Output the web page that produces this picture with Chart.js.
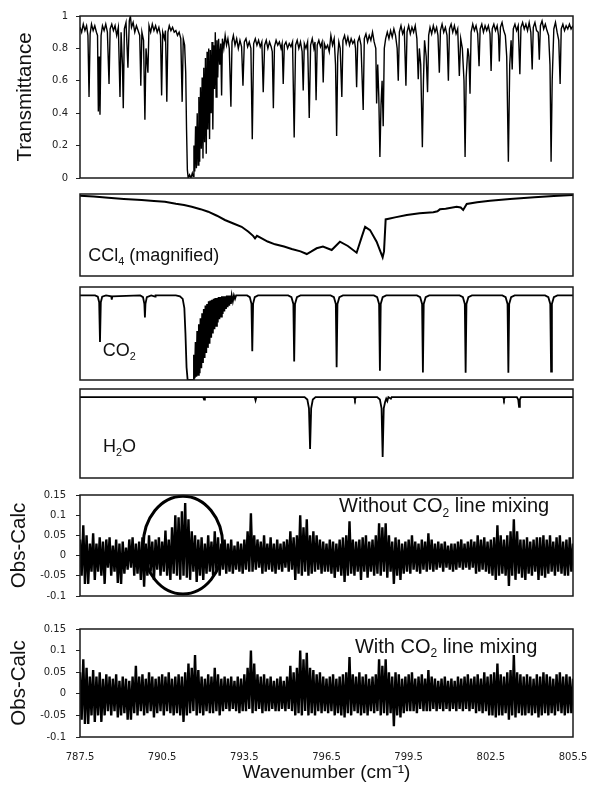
<!DOCTYPE html>
<html>
<head>
<meta charset="utf-8">
<script src="https://cdn.jsdelivr.net/npm/chart.js@4.4.1/dist/chart.umd.min.js"></script>
<style>
  body { margin: 0; background: #fff; }
  #wrap { position: relative; width: 593px; height: 785px; }
  #wrap canvas { position: absolute; left: 0; }
</style>
</head>
<body>
<div id="wrap">
  <canvas id="p1" width="593" height="192" style="top:0px"></canvas>
  <canvas id="p2" width="593" height="98" style="top:186px"></canvas>
  <canvas id="p3" width="593" height="109" style="top:279px"></canvas>
  <canvas id="p4" width="593" height="105" style="top:381px"></canvas>
  <canvas id="p5" width="593" height="133" style="top:479px"></canvas>
  <canvas id="p6" width="593" height="172" style="top:613px"></canvas>
</div>
<script>
// shared wavenumber axis
var X_MIN = 787.5, X_MAX = 805.5;
var xTicks = [787.5, 790.5, 793.5, 796.5, 799.5, 802.5, 805.5];
var tranTicks = [0, 0.2, 0.4, 0.6, 0.8, 1];
var resTicks = [-0.1, -0.05, 0, 0.05, 0.1, 0.15];

// measured transmittance [wavenumber, T]
var tranPts = [
  [787.50,.93],[787.56,.90],[787.62,.95],[787.68,.91],[787.74,.94],[787.79,.88],[787.83,.50],[787.87,.89],[787.92,.95],[787.98,.91],
  [788.04,.94],[788.10,.90],[788.14,.88],[788.17,.41],[788.20,.75],[788.23,.39],[788.27,.88],[788.32,.94],[788.38,.91],[788.44,.95],
  [788.50,.90],[788.56,.58],[788.60,.92],[788.66,.95],[788.72,.91],[788.78,.94],[788.84,.88],[788.90,.93],[788.96,.50],[789.00,.90],
  [789.05,.70],[789.08,.43],[789.12,.92],[789.18,.96],[789.25,.68],[789.30,.97],[789.34,1.0],[789.38,.93],[789.44,.96],[789.50,.90],
  [789.56,.94],[789.62,.91],[789.68,.88],[789.72,.57],[789.76,.90],[789.82,.85],[789.87,.36],[789.91,.80],[789.98,.65],[790.02,.94],
  [790.08,.90],[790.14,.95],[790.20,.91],[790.26,.94],[790.32,.90],[790.38,.93],[790.44,.88],[790.48,.51],[790.52,.90],[790.58,.86],
  [790.62,.91],[790.67,.47],[790.71,.90],[790.76,.94],[790.82,.91],[790.88,.93],[790.94,.90],[791.00,.91],[791.06,.88],[791.12,.90],
  [791.18,.86],[791.23,.47],[791.27,.86],[791.32,.82],[791.36,.65],[791.39,.30],[791.42,.05],[791.45,0],[791.50,.02],[791.55,0],
  [791.60,.03],[791.63,.01],[791.66,.20],[791.69,.04],[791.72,.32],[791.75,.06],[791.78,.40],[791.81,.08],[791.84,.50],[791.87,.10],
  [791.90,.56],[791.93,.18],[791.96,.62],[791.99,.12],[792.02,.68],[792.05,.22],[792.08,.74],[792.11,.15],[792.14,.78],[792.17,.30],
  [792.20,.80],[792.23,.24],[792.26,.79],[792.29,.40],[792.32,.84],[792.35,.30],[792.38,.82],[792.41,.55],[792.44,.90],[792.47,.50],
  [792.50,.85],[792.53,.62],[792.56,.86],[792.60,.70],[792.64,.83],[792.67,.51],[792.70,.86],[792.75,.80],[792.80,.88],[792.85,.82],
  [792.90,.86],[792.95,.80],[793.01,.44],[793.05,.84],[793.10,.88],[793.16,.82],[793.22,.86],[793.28,.80],[793.34,.85],[793.40,.81],
  [793.45,.57],[793.50,.84],[793.56,.86],[793.62,.81],[793.68,.84],[793.74,.80],[793.79,.24],[793.84,.83],[793.90,.86],[793.96,.82],
  [794.02,.85],[794.08,.81],[794.14,.84],[794.19,.53],[794.24,.82],[794.30,.85],[794.36,.80],[794.42,.84],[794.48,.81],[794.52,.78],
  [794.56,.43],[794.60,.81],[794.66,.85],[794.72,.82],[794.78,.84],[794.84,.80],[794.88,.83],[794.92,.58],[794.96,.82],[795.02,.84],
  [795.08,.80],[795.14,.83],[795.20,.81],[795.26,.84],[795.32,.25],[795.37,.82],[795.43,.85],[795.49,.80],[795.55,.84],[795.61,.78],
  [795.65,.54],[795.69,.83],[795.75,.80],[795.81,.84],[795.87,.37],[795.92,.82],[795.98,.86],[796.04,.80],[796.08,.84],[796.12,.48],
  [796.16,.82],[796.22,.85],[796.28,.81],[796.34,.84],[796.38,.59],[796.42,.83],[796.48,.80],[796.54,.82],[796.60,.78],[796.66,.88],
  [796.72,.82],[796.78,.86],[796.83,.70],[796.87,.26],[796.91,.75],[796.95,.84],[797.00,.80],[797.06,.50],[797.10,.85],[797.16,.88],
  [797.22,.83],[797.28,.87],[797.34,.82],[797.40,.86],[797.46,.83],[797.52,.85],[797.56,.80],[797.60,.56],[797.64,.84],[797.70,.87],
  [797.76,.82],[797.84,.42],[797.88,.86],[797.94,.89],[798.00,.84],[798.06,.88],[798.12,.85],[798.18,.90],[798.24,.84],[798.30,.80],
  [798.33,.46],[798.37,.70],[798.41,.50],[798.45,.13],[798.49,.45],[798.53,.60],[798.57,.32],[798.61,.80],[798.66,.86],[798.72,.90],
  [798.78,.86],[798.84,.91],[798.90,.87],[798.96,.92],[799.02,.88],[799.08,.80],[799.12,.60],[799.16,.90],[799.22,.94],[799.28,.89],
  [799.34,.92],[799.40,.57],[799.44,.90],[799.50,.94],[799.56,.89],[799.62,.93],[799.68,.90],[799.74,.94],[799.80,.86],[799.85,.61],
  [799.89,.80],[799.94,.70],[800.00,.19],[800.04,.60],[800.08,.85],[800.14,.75],[800.19,.53],[800.23,.88],[800.28,.93],[800.34,.89],
  [800.40,.94],[800.46,.90],[800.52,.93],[800.57,.88],[800.62,.65],[800.66,.91],[800.72,.95],[800.78,.90],[800.84,.93],[800.90,.88],
  [800.95,.60],[800.99,.92],[801.05,.95],[801.11,.90],[801.17,.94],[801.23,.89],[801.29,.92],[801.35,.63],[801.40,.86],[801.46,.80],
  [801.52,.60],[801.56,.13],[801.60,.62],[801.66,.80],[801.70,.75],[801.74,.52],[801.78,.90],[801.84,.95],[801.90,.91],[801.96,.94],
  [802.02,.89],[802.07,.69],[802.11,.92],[802.17,.95],[802.23,.90],[802.29,.94],[802.35,.91],[802.41,.94],[802.47,.89],[802.51,.66],
  [802.55,.92],[802.61,.95],[802.67,.91],[802.73,.94],[802.78,.88],[802.81,.72],[802.85,.93],[802.91,.96],[802.97,.91],[803.03,.88],
  [803.08,.75],[803.14,.10],[803.19,.70],[803.24,.85],[803.28,.67],[803.32,.92],[803.38,.95],[803.44,.91],[803.50,.94],[803.56,.64],
  [803.60,.93],[803.66,.96],[803.72,.92],[803.78,.95],[803.84,.91],[803.90,.96],[803.96,.90],[804.01,.67],[804.05,.93],[804.11,.96],
  [804.17,.91],[804.23,.90],[804.27,.73],[804.31,.94],[804.37,.97],[804.43,.92],[804.49,.95],[804.55,.91],[804.61,.88],[804.66,.70],
  [804.70,.10],[804.74,.60],[804.80,.92],[804.86,.96],[804.92,.90],[804.98,.85],[805.03,.58],[805.07,.92],[805.13,.95],[805.19,.91],
  [805.25,.94],[805.31,.92],[805.37,.95],[805.43,.92],[805.50,.94]
];

// CCl4 contribution (magnified, relative units)
var ccl4Pts = [
  [787.50,.98],[788.00,.97],[788.53,.955],[789.10,.94],[789.75,.927],[790.20,.915],[790.60,.905],[791.00,.88],[791.30,.865],[791.58,.845],
  [791.90,.815],[792.18,.784],[792.50,.735],[792.79,.683],[793.10,.64],[793.40,.60],[793.65,.54],[793.82,.49],[793.89,.46],[793.96,.49],
  [794.07,.47],[794.35,.42],[794.62,.386],[794.95,.36],[795.23,.33],[795.55,.30],[795.78,.268],[795.95,.30],[796.14,.338],[796.37,.358],
  [796.69,.317],[796.99,.418],[797.28,.366],[797.60,.284],[797.79,.48],[797.91,.60],[798.09,.56],[798.33,.418],[798.55,.228],[798.60,.30],
  [798.66,.69],[799.00,.715],[799.43,.744],[799.90,.765],[800.40,.777],[800.55,.79],[800.64,.813],[800.85,.82],[801.25,.845],[801.40,.835],
  [801.49,.805],[801.62,.878],[802.00,.90],[802.47,.918],[803.20,.94],[804.09,.96],[804.80,.975],[805.50,.988]
];

// CO2 transmittance
var co2Pts = [
  [787.50,1],[788.05,1],[788.15,.985],[788.20,.92],[788.23,.45],[788.26,.92],[788.31,.985],[788.45,1],[788.64,.99],[788.66,.95],
  [788.68,.99],[789.70,1],[789.80,.98],[789.85,.90],[789.87,.74],[789.89,.90],[789.94,.98],[790.10,1],[790.24,.985],[790.26,1],
  [791.00,1],[791.15,.99],[791.25,.96],[791.31,.85],[791.35,.55],[791.39,.15],[791.43,0],[791.63,0],
  [791.66,.30],[791.69,.02],[791.72,.45],[791.75,.04],[791.78,.58],[791.81,.06],[791.84,.66],[791.87,.08],[791.90,.73],[791.93,.14],
  [791.96,.79],[791.99,.20],[792.02,.84],[792.05,.26],[792.08,.88],[792.11,.32],[792.14,.90],[792.17,.38],[792.20,.93],[792.23,.43],
  [792.26,.94],[792.29,.50],[792.32,.95],[792.35,.55],[792.38,.96],[792.41,.60],[792.44,.97],[792.47,.64],[792.50,.97],[792.53,.68],
  [792.56,.98],[792.59,.72],[792.62,.98],[792.65,.75],[792.68,.99],[792.71,.78],[792.74,.99],[792.77,.81],[792.80,.99],[792.83,.84],
  [792.86,1],[792.89,.86],[792.92,1],[792.95,.88],[792.98,1],[793.01,.90],[793.04,1],[793.08,.93],[793.12,1],[793.16,.96],[793.20,1],
  [793.60,1],[793.70,.98],[793.76,.90],[793.79,.34],[793.82,.90],[793.88,.98],[794.00,1],
  [795.10,1],[795.22,.98],[795.29,.90],[795.32,.22],[795.35,.90],[795.42,.98],[795.55,1],
  [796.65,1],[796.77,.98],[796.84,.90],[796.87,.15],[796.90,.90],[796.97,.98],[797.10,1],
  [798.23,1],[798.35,.98],[798.42,.90],[798.45,.11],[798.48,.90],[798.55,.98],[798.68,1],
  [799.80,1],[799.92,.98],[799.99,.90],[800.02,.09],[800.05,.90],[800.12,.98],[800.25,1],
  [801.36,1],[801.48,.98],[801.55,.90],[801.58,.085],[801.61,.90],[801.68,.98],[801.81,1],
  [802.92,1],[803.04,.98],[803.11,.90],[803.14,.085],[803.17,.90],[803.24,.98],[803.37,1],
  [804.48,1],[804.60,.98],[804.67,.90],[804.70,.10],[804.73,.90],[804.80,.98],[804.93,1],
  [805.50,1]
];

// H2O transmittance
var h2oPts = [
  [787.50,1],[792.00,1],[792.03,.985],[792.06,1],[793.88,1],[793.91,.98],[793.94,1],
  [795.70,1],[795.80,.985],[795.86,.93],[795.90,.68],[795.94,.93],[796.00,.985],[796.10,1],
  [797.51,1],[797.54,.985],[797.57,1],
  [798.35,1],[798.45,.985],[798.51,.93],[798.55,.63],[798.59,.93],[798.64,.97],[798.68,.99],[798.72,.975],[798.76,1],
  [798.85,.99],[798.88,1],[802.95,1],[802.98,.985],[803.01,1],
  [803.45,1],[803.50,.985],[803.53,.94],[803.56,.985],[803.60,1],[805.50,1]
];

// residuals, evenly sampled from 787.5 to 805.5
var resNoMix = [
  .04,-.05,.075,-.07,.05,-.07,.03,-.04,.055,-.06,
  .03,-.04,.045,-.05,.035,-.07,.04,-.03,.045,-.05,
  .025,-.04,.04,-.068,.03,-.07,.035,-.045,.02,-.035,
  .04,-.03,.045,-.05,.03,-.045,.035,-.06,.045,-.077,
  .03,-.05,.05,-.04,.035,-.06,.04,-.035,.045,-.05,
  .035,-.04,.062,-.05,.04,-.06,.07,-.045,.1,-.05,
  .095,-.06,.11,-.05,.13,-.055,.09,-.06,.06,-.04,
  .05,-.065,.04,-.05,.045,-.06,.03,-.045,.05,-.04,
  .035,-.05,.06,-.04,.045,-.05,.03,-.035,.04,-.045,
  .03,-.04,.04,-.045,.025,-.035,.035,-.04,.03,-.045,
  .04,-.035,.06,-.04,.105,-.04,.05,-.035,.04,-.03,
  .035,-.045,.05,-.04,.03,-.035,.045,-.04,.03,-.045,
  .04,-.035,.03,-.04,.035,-.03,.04,-.04,.06,-.035,
  .045,-.06,.05,-.045,.1,-.05,.07,-.04,.09,-.05,
  .05,-.045,.06,-.04,.05,-.035,.04,-.045,.035,-.04,
  .03,-.04,.04,-.045,.035,-.055,.03,-.04,.04,-.05,
  .045,-.065,.05,-.05,.085,-.045,.04,-.05,.035,-.04,
  .04,-.06,.045,-.04,.05,-.055,.035,-.04,.04,-.05,
  .05,-.045,.08,-.05,.07,-.04,.08,-.055,.05,-.04,
  .035,-.07,.045,-.05,.04,-.06,.03,-.045,.035,-.04,
  .04,-.045,.05,-.035,.035,-.04,.03,-.045,.04,-.035,
  .035,-.04,.055,-.035,.04,-.04,.03,-.035,.035,-.03,
  .03,-.04,.035,-.03,.025,-.035,.03,-.04,.03,-.035,
  .035,-.03,.04,-.035,.03,-.03,.035,-.035,.04,-.03,
  .035,-.045,.05,-.04,.04,-.035,.045,-.04,.035,-.045,
  .04,-.05,.045,-.06,.075,-.05,.05,-.045,.04,-.05,
  .05,-.075,.06,-.05,.09,-.06,.06,-.045,.04,-.055,
  .04,-.06,.045,-.045,.035,-.05,.04,-.04,.045,-.06,
  .045,-.05,.05,-.055,.04,-.045,.05,-.04,.035,-.05,
  .045,-.04,.05,-.045,.035,-.05,.04,-.05,.045,-.04,
  .03
];
var resMix = [
  .05,-.06,.08,-.07,.06,-.07,.04,-.05,.055,-.065,
  .04,-.05,.05,-.065,.035,-.05,.045,-.04,.04,-.05,
  .035,-.04,.045,-.055,.03,-.05,.04,-.045,.035,-.06,
  .03,-.06,.04,-.045,.065,-.05,.04,-.04,.045,-.05,
  .035,-.045,.05,-.04,.04,-.055,.035,-.045,.04,-.04,
  .045,-.05,.04,-.04,.05,-.045,.035,-.05,.04,-.045,
  .045,-.05,.04,-.065,.05,-.05,.07,-.045,.06,-.04,
  .09,-.05,.055,-.045,.04,-.05,.035,-.04,.045,-.045,
  .04,-.045,.06,-.04,.045,-.05,.035,-.04,.04,-.035,
  .035,-.04,.04,-.035,.03,-.04,.04,-.045,.035,-.04,
  .045,-.04,.06,-.035,.1,-.045,.07,-.04,.045,-.035,
  .04,-.045,.045,-.04,.035,-.04,.04,-.035,.03,-.04,
  .035,-.04,.04,-.035,.03,-.04,.04,-.035,.065,-.04,
  .05,-.05,.06,-.045,.1,-.05,.08,-.04,.095,-.05,
  .06,-.045,.055,-.05,.045,-.04,.05,-.045,.04,-.04,
  .035,-.045,.04,-.04,.045,-.05,.035,-.045,.04,-.05,
  .045,-.055,.05,-.045,.085,-.05,.045,-.04,.04,-.045,
  .05,-.05,.04,-.045,.045,-.05,.035,-.04,.04,-.045,
  .045,-.04,.08,-.05,.065,-.045,.08,-.05,.05,-.045,
  .04,-.075,.05,-.05,.045,-.055,.035,-.045,.04,-.04,
  .045,-.04,.05,-.04,.035,-.045,.04,-.035,.045,-.04,
  .035,-.04,.055,-.04,.04,-.035,.035,-.04,.03,-.035,
  .035,-.04,.04,-.035,.03,-.04,.035,-.035,.03,-.04,
  .04,-.035,.035,-.04,.04,-.035,.045,-.04,.035,-.035,
  .04,-.045,.045,-.04,.035,-.045,.05,-.04,.04,-.05,
  .045,-.05,.05,-.055,.07,-.05,.045,-.05,.04,-.045,
  .05,-.06,.055,-.05,.09,-.055,.05,-.045,.045,-.05,
  .04,-.05,.045,-.045,.04,-.05,.035,-.045,.045,-.055,
  .04,-.05,.05,-.045,.045,-.05,.04,-.045,.035,-.05,
  .045,-.04,.05,-.045,.04,-.05,.045,-.045,.04,-.045,
  .035
];

// circled region in the upper residual panel
var ringCenter = [791.26, 0.026];
var ringRadius = [1.45, 0.121];

var SANS = '"Liberation Sans", Arial, sans-serif';
var TICKFONT = { family: '"DejaVu Sans", Verdana, sans-serif', size: 10 };

function pairs(list) {
  return list.map(function (p) { return { x: p[0], y: p[1] }; });
}
function sampled(vals) {
  var step = (X_MAX - X_MIN) / (vals.length - 1);
  return vals.map(function (v, i) { return { x: X_MIN + i * step, y: v }; });
}

var framePlugin = {
  id: 'frame',
  afterDraw: function (chart) {
    var a = chart.chartArea, c = chart.ctx;
    c.save();
    c.strokeStyle = '#1a1a1a';
    c.lineWidth = 1.5;
    c.strokeRect(a.left, a.top, a.right - a.left, a.bottom - a.top);
    c.restore();
  }
};

function labelPlugin(spec) {
  return {
    id: 'panelLabel',
    afterDatasetsDraw: function (chart) {
      var c = chart.ctx;
      var x = chart.scales.x.getPixelForValue(spec.wn);
      var y = chart.scales.y.getPixelForValue(spec.val);
      c.save();
      c.fillStyle = '#111';
      c.textBaseline = 'alphabetic';
      spec.parts.forEach(function (p) {
        var sub = p.charAt(0) === '_';
        var t = sub ? p.slice(1) : p;
        c.font = (sub ? spec.size * 0.6 : spec.size) + 'px ' + SANS;
        c.fillText(t, x, y + (sub ? spec.size * 0.22 : 0));
        x += c.measureText(t).width;
      });
      c.restore();
    }
  };
}

var ringPlugin = {
  id: 'ring',
  afterDatasetsDraw: function (chart) {
    var sx = chart.scales.x, sy = chart.scales.y, c = chart.ctx;
    var cx = sx.getPixelForValue(ringCenter[0]);
    var cy = sy.getPixelForValue(ringCenter[1]);
    var rx = sx.getPixelForValue(ringCenter[0] + ringRadius[0]) - cx;
    var ry = cy - sy.getPixelForValue(ringCenter[1] + ringRadius[1]);
    c.save();
    c.strokeStyle = '#000';
    c.lineWidth = 3;
    c.beginPath();
    c.ellipse(cx, cy, rx, ry, 0, 0, Math.PI * 2);
    c.stroke();
    c.restore();
  }
};

function yAxis(o) {
  if (!o.ticks) {
    return { display: false, min: o.min, max: o.max };
  }
  return {
    min: o.min, max: o.max,
    afterFit: function (s) { s.width = o.width; },
    afterBuildTicks: function (s) { s.ticks = o.ticks.map(function (v) { return { value: v }; }); },
    ticks: { font: TICKFONT, color: '#222', padding: o.pad, callback: function (v) { return String(v); } },
    grid: { drawOnChartArea: false, tickLength: 4, color: '#222' },
    border: { display: false },
    title: { display: true, text: o.title, color: '#111', font: { family: SANS, size: 20.5 }, padding: { top: 0, bottom: 0 } }
  };
}

function xAxis(show) {
  if (!show) return { type: 'linear', min: X_MIN, max: X_MAX, display: false };
  return {
    type: 'linear', min: X_MIN, max: X_MAX,
    afterFit: function (s) {
      s.height = 48;
      // end labels may hang over the plot edges, keep the plot width shared
      s.paddingLeft = 0;
      s.paddingRight = 0;
    },
    afterBuildTicks: function (s) { s.ticks = xTicks.map(function (v) { return { value: v }; }); },
    ticks: { font: TICKFONT, color: '#222', padding: 14, maxRotation: 0, autoSkip: false,
             callback: function (v) { return v.toFixed(1); } },
    grid: { drawOnChartArea: false, drawTicks: false },
    border: { display: false },
    title: { display: true, text: 'Wavenumber (cm\u207B\u00B9)', color: '#111',
             font: { family: SANS, size: 19 }, padding: { top: 0, bottom: 1 } }
  };
}

function panel(id, data, o) {
  var plugins = [framePlugin];
  if (o.label) plugins.push(labelPlugin(o.label));
  if (o.ring) plugins.push(ringPlugin);
  return new Chart(document.getElementById(id), {
    type: 'line',
    data: { datasets: [{ data: data, borderColor: '#000', borderWidth: o.lw, pointRadius: 0, fill: false, tension: 0 }] },
    options: {
      responsive: false, animation: false, devicePixelRatio: 1,
      layout: { padding: { left: o.padLeft, right: 20, top: o.padTop || 8, bottom: o.padBottom } },
      plugins: { legend: { display: false }, tooltip: { enabled: false } },
      scales: { x: xAxis(o.xShow), y: yAxis(o.y) }
    },
    plugins: plugins
  });
}

panel('p1', pairs(tranPts), {
  lw: 1.4, padLeft: 13, padTop: 16, padBottom: 9,
  y: { min: 0, max: 1, ticks: tranTicks, width: 67, pad: 8, title: 'Transmittance' }
});
panel('p2', pairs(ccl4Pts), {
  lw: 2, padLeft: 80, padBottom: 8, y: { min: 0, max: 1 },
  label: { wn: 787.80, val: 0.177, size: 18, parts: ['CCl', '_4', ' (magnified)'] }
});
panel('p3', pairs(co2Pts), {
  lw: 1.8, padLeft: 80, padBottom: 8, y: { min: 0, max: 1.1 },
  label: { wn: 788.33, val: 0.279, size: 18, parts: ['CO', '_2'] }
});
panel('p4', pairs(h2oPts), {
  lw: 1.8, padLeft: 80, padBottom: 8, y: { min: 0.5, max: 1.05 },
  label: { wn: 788.34, val: 0.663, size: 18, parts: ['H', '_2', 'O'] }
});
panel('p5', sampled(resNoMix), {
  lw: 2.4, padLeft: 7, padBottom: 8, ring: true,
  y: { min: -0.1, max: 0.15, ticks: resTicks, width: 73, pad: 10, title: 'Obs-Calc' },
  label: { wn: 796.96, val: 0.107, size: 20, parts: ['Without CO', '_2', ' line mixing'] }
});
panel('p6', sampled(resMix), {
  lw: 2.4, padLeft: 7, padBottom: 0, xShow: true,
  y: { min: -0.1, max: 0.15, ticks: resTicks, width: 73, pad: 10, title: 'Obs-Calc' },
  label: { wn: 797.54, val: 0.0955, size: 20, parts: ['With CO', '_2', ' line mixing'] }
});
</script>
</body>
</html>
